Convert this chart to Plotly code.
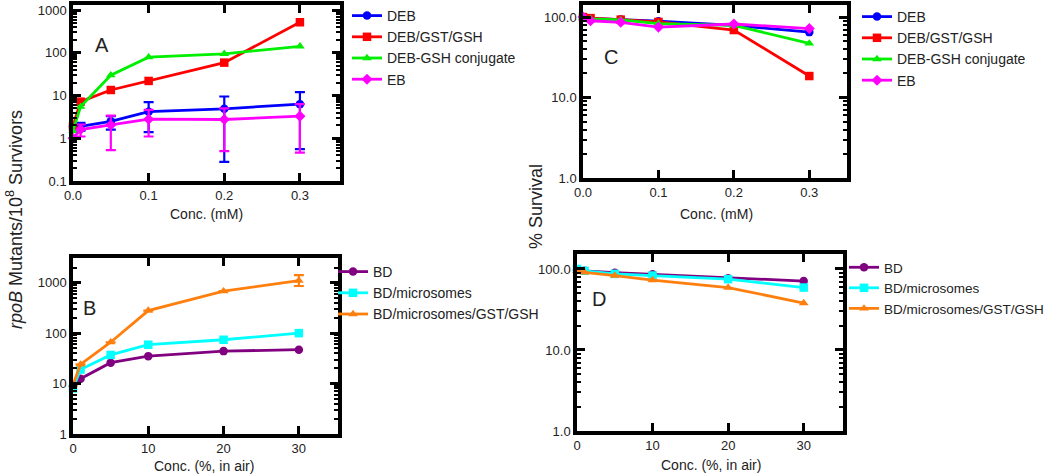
import plotly.graph_objects as go

W, H = 1050, 475

# ---------------- data ----------------
conc_mM = [0.0, 0.01, 0.05, 0.1, 0.2, 0.3]
conc_air = [0, 1, 5, 10, 20, 30]

# Panel A: rpoB mutants / 10^8 survivors
a_deb = [1.9, 1.9, 2.5, 4.2, 4.9, 6.3]
a_deb_hi = [1.9, 2.3, 3.3, 7.0, 9.5, 12.0]
a_deb_lo = [1.9, 1.5, 1.6, 1.4, 0.28, 0.56]
a_gst = [1.9, 7.2, 13.5, 22, 59, 520]
a_conj = [1.5, 5.5, 30, 79, 95, 142]
a_eb = [1.0, 1.6, 2.05, 2.8, 2.75, 3.3]
a_eb_hi = [1.0, 2.1, 3.4, 4.6, 5.0, 6.3]
a_eb_lo = [1.0, 1.1, 0.53, 1.1, 0.5, 0.46]

# Panel B
b_bd = [9, 12.5, 26, 35, 44, 47]
b_micro = [8, 19, 37, 59, 74, 100]
b_gst = [9.5, 24, 66, 280, 680, 1100]
b_gst_hi = [9.5, 24, 66, 280, 680, 1420]
b_gst_lo = [9.5, 24, 66, 280, 680, 860]

# Panel C: % survival
c_deb = [100, 96, 93, 89, 79, 65]
c_gst = [100, 97, 93, 87, 69, 18.5]
c_conj = [98, 95, 92, 83, 79, 47]
c_eb = [100, 90, 86, 75, 82, 72]

# Panel D
d_bd = [97, 95, 90, 86, 77, 71]
d_micro = [100, 95, 87, 83, 75, 59]
d_gst = [95, 91, 83, 73, 59, 38]

names_top = ["DEB", "DEB/GST/GSH", "DEB-GSH conjugate", "EB"]
names_bot = ["BD", "BD/microsomes", "BD/microsomes/GST/GSH"]

col_top = ["#0000ff", "#ff0000", "#00ee00", "#ff00ff"]
sym_top = ["circle", "square", "triangle-up", "diamond"]
col_bot = ["#800080", "#00ffff", "#ff7f0e"]
sym_bot = ["circle", "square", "triangle-up"]

FONT = "Liberation Sans, Arial, sans-serif"
TXT = "#222222"

fig = go.Figure()


def err(y, hi, lo, color):
    return dict(type="data", symmetric=False,
                array=[h - v for h, v in zip(hi, y)],
                arrayminus=[v - l for v, l in zip(y, lo)],
                color=color, thickness=2.2, width=5)


def add(x, y, name, color, sym, xa, ya, legend, error=None, msize=8.5):
    tr = go.Scatter(
        x=x, y=y, name=name, mode="lines+markers",
        line=dict(color=color, width=2.8),
        marker=dict(color=color, symbol=sym, size=msize),
        xaxis=xa, yaxis=ya, legend=legend, cliponaxis=False,
    )
    if error is not None:
        tr.error_y = error
    fig.add_trace(tr)


# Panel A
add(conc_mM, a_deb, names_top[0], col_top[0], sym_top[0], "x", "y", "legend",
    err(a_deb, a_deb_hi, a_deb_lo, col_top[0]))
add(conc_mM, a_gst, names_top[1], col_top[1], sym_top[1], "x", "y", "legend")
add(conc_mM, a_conj, names_top[2], col_top[2], sym_top[2], "x", "y", "legend")
add(conc_mM, a_eb, names_top[3], col_top[3], sym_top[3], "x", "y", "legend",
    err(a_eb, a_eb_hi, a_eb_lo, col_top[3]))

# Panel C
for ys, i in zip([c_deb, c_gst, c_conj, c_eb], range(4)):
    add(conc_mM, ys, names_top[i], col_top[i], sym_top[i], "x3", "y3", "legend3")

# Panel B
add(conc_air, b_bd, names_bot[0], col_bot[0], sym_bot[0], "x2", "y2", "legend2")
add(conc_air, b_micro, names_bot[1], col_bot[1], sym_bot[1], "x2", "y2", "legend2")
add(conc_air, b_gst, names_bot[2], col_bot[2], sym_bot[2], "x2", "y2", "legend2",
    err(b_gst, b_gst_hi, b_gst_lo, col_bot[2]))

# Panel D
for ys, i in zip([d_bd, d_micro, d_gst], range(3)):
    add(conc_air, ys, names_bot[i], col_bot[i], sym_bot[i], "x4", "y4", "legend4")


def px(x):
    return x / W


def py(y):
    return 1 - y / H


axis_common = dict(showline=True, linewidth=3.5, linecolor="black", mirror="allticks",
                   ticks="inside", ticklen=8, tickwidth=2.5, tickcolor="black",
                   showgrid=False, zeroline=False, automargin=False,
                   tickfont=dict(family=FONT, size=13, color=TXT))


def minor_log(decades):
    vals = [m * 10 ** d for d in decades for m in range(2, 10)]
    return dict(ticks="inside", ticklen=4, tickwidth=2, tickcolor="black",
                tickmode="array", tickvals=vals, showgrid=False)


leg_font = dict(family=FONT, size=14, color=TXT)

fig.update_layout(
    width=W, height=H, template="none",
    margin=dict(l=0, r=0, t=0, b=0, pad=0, autoexpand=False),
    paper_bgcolor="white", plot_bgcolor="white",
    font=dict(family=FONT, color=TXT),
    xaxis=dict(domain=[px(73), px(340)], anchor="y", range=[0, 0.353],
               tickvals=[0, 0.1, 0.2, 0.3], ticktext=["0.0", "0.1", "0.2", "0.3"],
               **axis_common),
    yaxis=dict(domain=[py(181), py(5)], anchor="x", type="log", range=[-1, 3.12],
               tickvals=[0.1, 1, 10, 100, 1000], ticktext=["0.1", "1", "10", "100", "1000"],
               minor=minor_log([-1, 0, 1, 2, 3]), **axis_common),
    xaxis2=dict(domain=[px(73), px(338)], anchor="y2", range=[0, 35.2],
                tickvals=[0, 10, 20, 30], **axis_common),
    yaxis2=dict(domain=[py(434), py(258)], anchor="x2", type="log", range=[0, 3.49],
                tickvals=[1, 10, 100, 1000], ticktext=["1", "10", "100", "1000"],
                minor=minor_log([0, 1, 2, 3]), **axis_common),
    xaxis3=dict(domain=[px(583), px(847)], anchor="y3", range=[0, 0.35],
                tickvals=[0, 0.1, 0.2, 0.3], ticktext=["0.0", "0.1", "0.2", "0.3"],
                **axis_common),
    yaxis3=dict(domain=[py(178), py(5)], anchor="x3", type="log", range=[0, 2.15],
                tickvals=[1, 10, 100], ticktext=["1.0", "10.0", "100.0"],
                minor=minor_log([0, 1, 2]), **axis_common),
    xaxis4=dict(domain=[px(577), px(843)], anchor="y4", range=[0, 35.2],
                tickvals=[0, 10, 20, 30], **axis_common),
    yaxis4=dict(domain=[py(431), py(254)], anchor="x4", type="log", range=[0, 2.185],
                tickvals=[1, 10, 100], ticktext=["1.0", "10.0", "100.0"],
                minor=minor_log([0, 1, 2]), **axis_common),
    legend=dict(x=px(347), y=py(0), xanchor="left", yanchor="top",
                font=leg_font, bgcolor="rgba(0,0,0,0)", itemwidth=30),
    legend2=dict(x=px(333), y=py(256), xanchor="left", yanchor="top",
                 font=leg_font, bgcolor="rgba(0,0,0,0)", itemwidth=30),
    legend3=dict(x=px(857), y=py(1), xanchor="left", yanchor="top",
                 font=leg_font, bgcolor="rgba(0,0,0,0)", itemwidth=30),
    legend4=dict(x=px(844), y=py(252), xanchor="left", yanchor="top",
                 font=dict(family=FONT, size=13.5, color=TXT),
                 bgcolor="rgba(0,0,0,0)", itemwidth=30),
    showlegend=True,
)

# Axis titles and panel labels as annotations
ann = [
    dict(text="<i>rpoB</i> Mutants/10<sup>8</sup> Survivors", x=px(14), y=py(220),
         textangle=-90, font=dict(size=18)),
    dict(text="% Survival", x=px(536), y=py(207), textangle=-90, font=dict(size=18)),
    dict(text="Conc. (mM)", x=px(206), y=py(214), font=dict(size=14)),
    dict(text="Conc. (mM)", x=px(716), y=py(214), font=dict(size=14)),
    dict(text="Conc. (%, in air)", x=px(204), y=py(466), font=dict(size=14)),
    dict(text="Conc. (%, in air)", x=px(711), y=py(465), font=dict(size=14)),
    dict(text="A", x=px(102), y=py(45), font=dict(size=20)),
    dict(text="B", x=px(89), y=py(308), font=dict(size=20)),
    dict(text="C", x=px(611), y=py(57), font=dict(size=20)),
    dict(text="D", x=px(599), y=py(299), font=dict(size=20)),
]
for a in ann:
    a.update(xref="paper", yref="paper", showarrow=False, xanchor="center",
             yanchor="middle")
    a["font"].update(family=FONT, color=TXT)
    fig.add_annotation(**a)

fig.write_html("out.html",
               config={"displayModeBar": False},
               post_script="document.body.style.margin='0px';")
